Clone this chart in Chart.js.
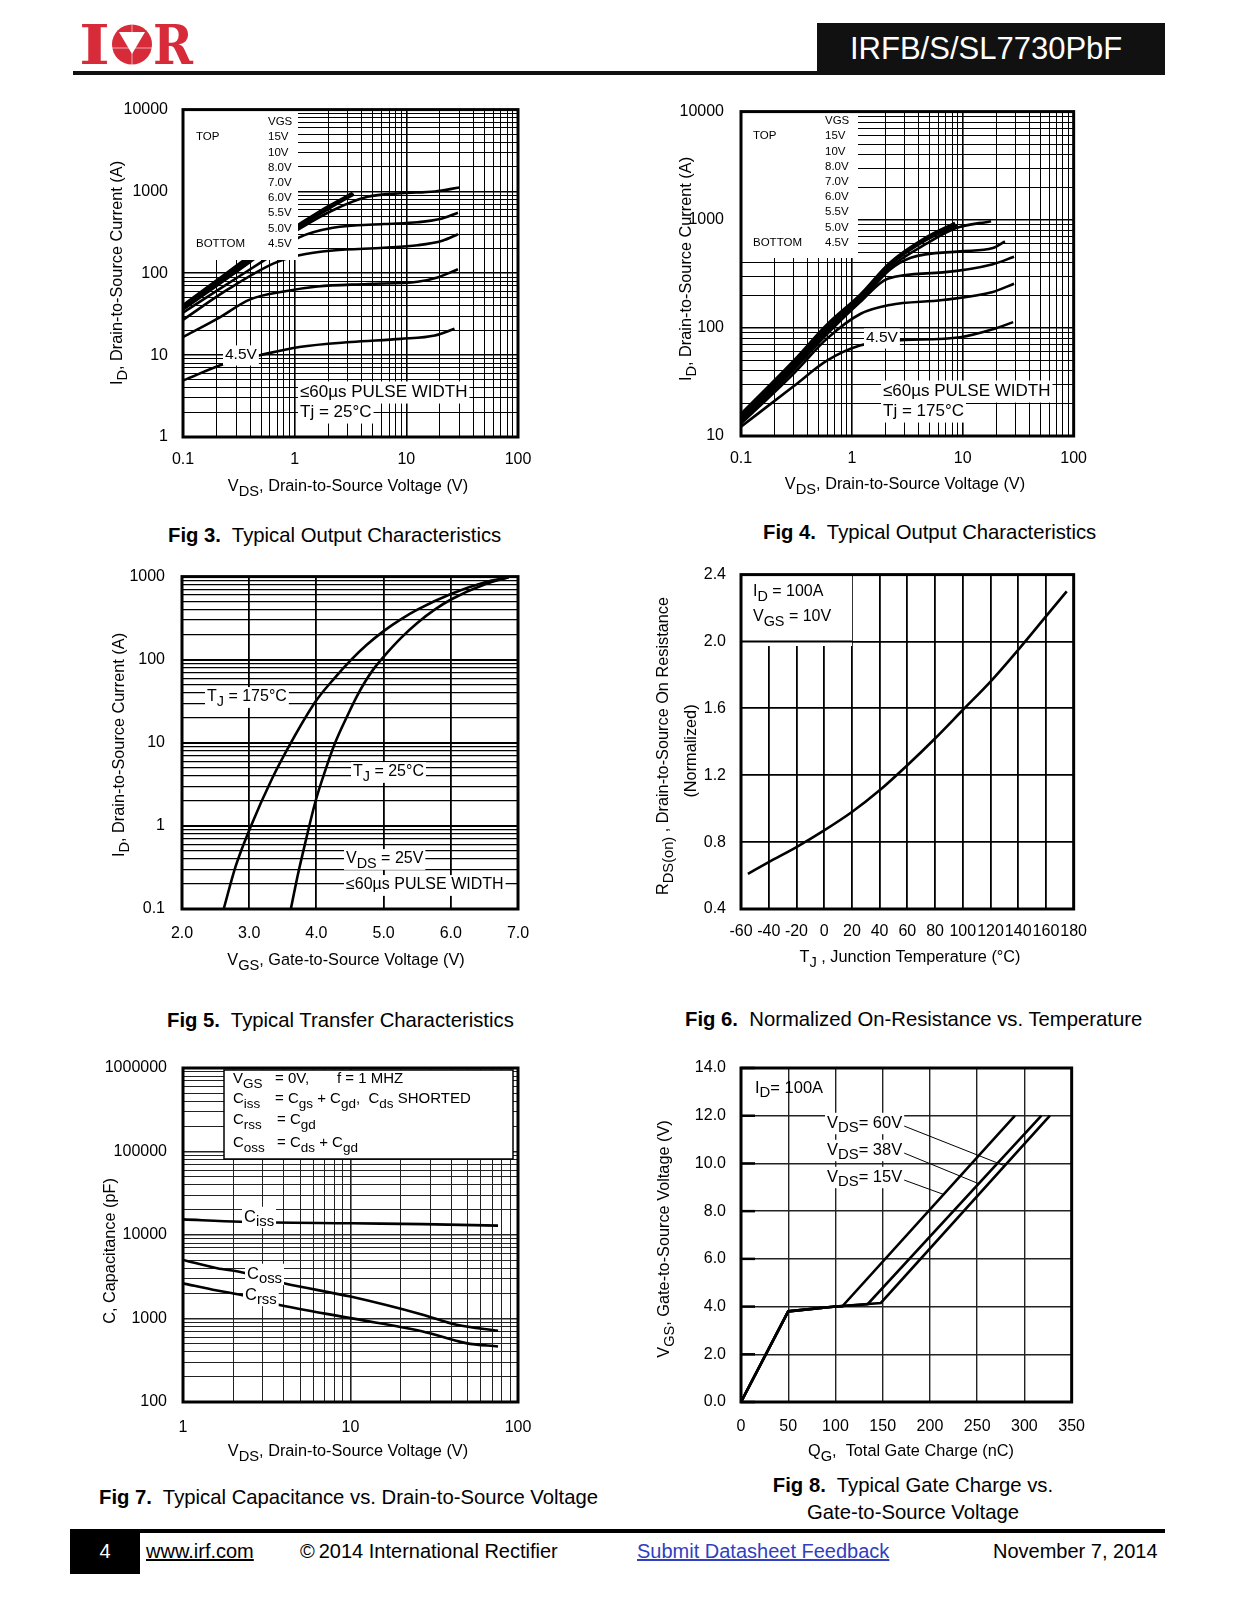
<!DOCTYPE html>
<html lang="en">
<head>
<meta charset="utf-8">
<title>IRFB/S/SL7730PbF - page 4</title>
<script src="https://cdn.jsdelivr.net/npm/chart.js@4.4.1/dist/chart.umd.min.js"></script>
<style>
  html, body { margin: 0; padding: 0; background: #fff; }
  body { position: relative; width: 1237px; height: 1600px; overflow: hidden; color: #000;
    font-family: "Liberation Sans", Arial, Helvetica, sans-serif; }
  .abs { position: absolute; }
  .fig { position: absolute; }
  .cap { position: absolute; font-size: 20.3px; line-height: 22px; white-space: nowrap; }
  .foot { position: absolute; top: 1540px; font-size: 20px; line-height: 22px; white-space: nowrap; }
</style>
</head>
<body>

<svg class="abs" style="left:79px;top:22px" width="116" height="46" viewBox="0 0 116 46">
  <text x="0" y="42" font-family="DejaVu Serif" font-weight="bold" font-size="54" fill="#d72b3a"
        textLength="31" lengthAdjust="spacingAndGlyphs">I</text>
  <circle cx="53" cy="22.5" r="20" fill="#d72b3a"/>
  <polygon points="40,10 66,10 53,32" fill="#fff"/>
  <line x1="33" y1="26" x2="73" y2="26" stroke="#fff" stroke-width="1" opacity="0.6"/>
  <line x1="53" y1="2" x2="53" y2="43" stroke="#fff" stroke-width="1" opacity="0.6"/>
  <text x="74" y="42" font-family="DejaVu Serif" font-weight="bold" font-size="54" fill="#d72b3a"
        textLength="40" lengthAdjust="spacingAndGlyphs">R</text>
</svg>
<div class="abs" style="left:73px;top:71px;width:746px;height:4px;background:#111"></div>
<div class="abs" style="left:817px;top:23px;width:348px;height:52px;background:#111;color:#fff;
  font-size:31px;line-height:52px;padding-left:33px;box-sizing:border-box">IRFB/S/SL7730PbF</div>

<div class="fig"><canvas id="fig3"></canvas></div>
<div class="fig"><canvas id="fig4"></canvas></div>
<div class="fig"><canvas id="fig5"></canvas></div>
<div class="fig"><canvas id="fig6"></canvas></div>
<div class="fig"><canvas id="fig7"></canvas></div>
<div class="fig"><canvas id="fig8"></canvas></div>

<div class="cap" style="left:168px;top:524px"><b>Fig 3.</b>&nbsp; Typical Output Characteristics</div>
<div class="cap" style="left:763px;top:521px"><b>Fig 4.</b>&nbsp; Typical Output Characteristics</div>
<div class="cap" style="left:167px;top:1009px"><b>Fig 5.</b>&nbsp; Typical Transfer Characteristics</div>
<div class="cap" style="left:685px;top:1008px"><b>Fig 6.</b>&nbsp; Normalized On-Resistance vs. Temperature</div>
<div class="cap" style="left:99px;top:1486px"><b>Fig 7.</b>&nbsp; Typical Capacitance vs. Drain-to-Source Voltage</div>
<div class="cap" style="left:763px;top:1472px;width:300px;text-align:center;line-height:26.5px"><b>Fig 8.</b>&nbsp; Typical Gate Charge vs.<br>Gate-to-Source Voltage</div>

<div class="abs" style="left:70px;top:1529px;width:1095px;height:4px;background:#000"></div>
<div class="abs" style="left:70px;top:1529px;width:70px;height:45px;background:#000;color:#fff;
  font-size:20px;line-height:45px;text-align:center">4</div>
<div class="foot" style="left:146px;text-decoration:underline">www.irf.com</div>
<div class="foot" style="left:300px">&copy;&thinsp;2014 International Rectifier</div>
<div class="foot" style="left:637px;color:#2f3fbf;text-decoration:underline">Submit Datasheet Feedback</div>
<div class="foot" style="left:993px">November 7, 2014</div>

<script>
const FONT = '"Liberation Sans", Arial, Helvetica, sans-serif'
const TICK_SIZE = 16
const TITLE_SIZE = 16.3

/* ---------- Données ---------- */

// Légende VGS commune aux Fig 3 et Fig 4
const vgsSteps = ["15V", "10V", "8.0V", "7.0V", "6.0V", "5.5V", "5.0V", "4.5V"]

// Fig 3 : [VDS (V), ID (A)], Tj = 25°C
const fig3Vgs15 = [[0.1, 41], [0.2, 82], [0.4, 165], [0.7, 280], [1.1, 400], [2, 660], [3.3, 960]]
const fig3Vgs10 = [[0.1, 39], [0.2, 78], [0.4, 156], [0.7, 265], [1.1, 385], [2, 640], [3.3, 940]]
const fig3Vgs8 = [[0.1, 37], [0.2, 73], [0.4, 146], [0.7, 250], [1.1, 370], [2, 610], [3.4, 920]]
const fig3Vgs7 = [[0.1, 36], [0.2, 70], [0.4, 138], [0.7, 235], [1.1, 350], [2.2, 590], [4.5, 860], [9, 950], [18, 1000], [30, 1120]]
const fig3Vgs6 = [[0.1, 33], [0.2, 61], [0.4, 112], [0.7, 183], [1.1, 275], [2.2, 360], [6.3, 400], [12.6, 420], [20, 460], [29, 550]]
const fig3Vgs55 = [[0.1, 27], [0.25, 63], [0.65, 132], [1.1, 166], [2.2, 190], [6.3, 205], [12.6, 220], [21, 250], [29, 300]]
const fig3Vgs5 = [[0.1, 16.6], [0.2, 27.5], [0.4, 48], [0.8, 60], [1.6, 69], [4.5, 74], [12.6, 79], [19, 89], [29, 112]]
const fig3Vgs45 = [[0.1, 4.9], [0.24, 7.9], [0.49, 10], [1.1, 12.6], [3.2, 14.5], [8.9, 15.8], [18, 17.4], [27, 21]]
const fig3XLabels = ["0.1", "1", "10", "100"]
const fig3YLabels = ["1", "10", "100", "1000", "10000"]

// Fig 4 : [VDS (V), ID (A)], Tj = 175°C
const fig4Vgs15 = [[0.1, 16], [0.3, 50], [0.6, 108], [1.2, 205], [2.2, 400], [4.7, 690], [8.5, 935]]
const fig4Vgs10 = [[0.1, 15.5], [0.3, 48], [0.6, 105], [1.2, 200], [2.2, 390], [4.7, 670], [8.5, 915]]
const fig4Vgs8 = [[0.1, 15], [0.3, 46], [0.6, 100], [1.2, 195], [2.2, 380], [4.7, 650], [9, 895]]
const fig4Vgs7 = [[0.1, 14.5], [0.3, 44], [0.6, 96], [1.2, 185], [2.2, 360], [4.7, 600], [8.5, 830], [18, 970]]
const fig4Vgs6 = [[0.1, 14], [0.3, 42], [0.6, 92], [1.2, 178], [2.2, 345], [3.4, 445], [9.5, 510], [18.7, 548], [24, 630]]
const fig4Vgs55 = [[0.1, 13.5], [0.3, 41], [0.6, 88], [1.2, 175], [2.1, 285], [6.6, 326], [18.7, 388], [29, 455]]
const fig4Vgs5 = [[0.1, 13], [0.3, 38], [0.6, 80], [1.2, 135], [2.2, 163], [6.6, 181], [18.7, 215], [29, 256]]
const fig4Vgs45 = [[0.1, 12.2], [0.3, 29], [0.6, 50], [1.2, 69], [2.3, 76], [9.5, 82], [18.7, 97], [28.5, 113]]
const fig4XLabels = ["0.1", "1", "10", "100"]
const fig4YLabels = ["10", "100", "1000", "10000"]

// Fig 5 : [VGS (V), ID (A)], VDS = 25V
const fig5Tj175 = [[2.62, 0.1], [2.8, 0.33], [3.02, 0.97], [3.35, 3.85], [3.62, 10], [3.99, 31.6], [4.27, 60], [4.52, 100], [4.75, 151], [5.01, 224], [5.25, 304], [5.51, 403], [6.01, 621], [6.51, 855], [6.86, 982]]
const fig5Tj25 = [[3.62, 0.1], [3.72, 0.25], [3.82, 0.56], [3.99, 2.02], [4.13, 4.6], [4.27, 9.6], [4.47, 21.9], [4.6, 36], [4.72, 53.6], [4.85, 77], [4.99, 106], [5.26, 183], [5.51, 280], [5.76, 400], [6.01, 534], [6.51, 808], [6.86, 980]]
const fig5XLabels = ["2.0", "3.0", "4.0", "5.0", "6.0", "7.0"]
const fig5YLabels = ["0.1", "1", "10", "100", "1000"]

// Fig 6 : [TJ (°C), RDS(on) normalisé]
const fig6Rds = [[-55, 0.61], [-40, 0.68], [-20, 0.77], [0, 0.87], [20, 0.98], [40, 1.11], [60, 1.26], [80, 1.42], [100, 1.59], [120, 1.76], [140, 1.95], [160, 2.15], [175, 2.3]]
const fig6XLabels = ["-60", "-40", "-20", "0", "20", "40", "60", "80", "100", "120", "140", "160", "180"]
const fig6YLabels = ["0.4", "0.8", "1.2", "1.6", "2.0", "2.4"]

// Fig 7 : [VDS (V), C (pF)]
const fig7Ciss = [[1, 15400], [2.2, 14400], [10, 13800], [27, 13500], [76, 12950]]
const fig7Coss = [[1, 5020], [1.6, 4000], [2.2, 3600], [4, 2640], [10, 1830], [27, 1110], [43, 840], [76, 713]]
const fig7Crss = [[1, 2640], [1.6, 2160], [2.2, 1920], [3.6, 1480], [10, 1010], [27, 700], [49, 507], [76, 462]]
const fig7XLabels = ["1", "10", "100"]
const fig7YLabels = ["100", "1000", "10000", "100000", "1000000"]

// Fig 8 : [QG (nC), VGS (V)], ID = 100A
const fig8Vds60 = [[0, 0], [50, 3.8], [100, 4.0], [148, 4.15], [327, 12]]
const fig8Vds38 = [[0, 0], [50, 3.8], [100, 4.0], [134, 4.1], [318, 12]]
const fig8Vds15 = [[0, 0], [50, 3.8], [100, 4.0], [107, 4.0], [290, 12]]
const fig8LeaderLevels = [9.9, 9.15, 8.7]
const fig8XLabels = ["0", "50", "100", "150", "200", "250", "300", "350"]
const fig8YLabels = ["0.0", "2.0", "4.0", "6.0", "8.0", "10.0", "12.0", "14.0"]

/* ---------- Outils ---------- */

/**
 * Lignes de grille d'un axe logarithmique (1..9 par décade)
 */
const logGrid = (min, max) => {
  const lo = Math.round(Math.log10(min))
  const hi = Math.round(Math.log10(max))
  const values = []
  for (let e = lo; e < hi; e++) {
    for (let m = 1; m < 10; m++) values.push(m * Math.pow(10, e))
  }
  values.push(Math.pow(10, hi))
  return values
}

/**
 * Texte avec indices (ex. V + DS en indice)
 * @param {Array|string} parts - [[texte, indice?], ...]
 */
const drawText = (ctx, parts, x, y, { size = 15, align = "left", angle = 0, bg = false } = {}) => {
  const runs = (typeof parts === "string" ? [[parts]] : parts).map(([text, sub]) => ({ text, sub: !!sub }))
  const fontOf = (r) => `${r.sub ? size * 0.9 : size}px ${FONT}`
  let total = 0
  runs.forEach((r) => {
    ctx.font = fontOf(r)
    r.w = ctx.measureText(r.text).width
    total += r.w
  })
  ctx.save()
  ctx.translate(x, y)
  ctx.rotate(angle)
  let cx = align === "center" ? -total / 2 : align === "right" ? -total : 0
  if (bg) {
    ctx.fillStyle = "#fff"
    ctx.fillRect(cx - 2, -size * 0.62, total + 4, size * 1.3)
  }
  ctx.fillStyle = "#000"
  ctx.textAlign = "left"
  ctx.textBaseline = "middle"
  runs.forEach((r) => {
    ctx.font = fontOf(r)
    ctx.fillText(r.text, cx, r.sub ? size * 0.32 : 0)
    cx += r.w
  })
  ctx.restore()
}

const whiteBox = (ctx, x0, y0, x1, y1) => {
  ctx.fillStyle = "#fff"
  ctx.fillRect(x0, y0, x1 - x0, y1 - y0)
}

const line = (ctx, x0, y0, x1, y1, width = 1) => {
  ctx.strokeStyle = "#000"
  ctx.lineWidth = width
  ctx.beginPath()
  ctx.moveTo(x0, y0)
  ctx.lineTo(x1, y1)
  ctx.stroke()
}

/**
 * Légende VGS des Fig 3 / Fig 4
 */
const drawVgsLegend = (ctx, left, valueX, topY) => {
  drawText(ctx, "VGS", valueX, topY, { size: 11.5 })
  vgsSteps.forEach((label, i) => {
    drawText(ctx, label, valueX, topY + 15.2 * (i + 1), { size: 11.5 })
  })
  drawText(ctx, "TOP", left, topY + 15.2, { size: 11.5 })
  drawText(ctx, "BOTTOM", left, topY + 15.2 * 8, { size: 11.5 })
}

/**
 * Configuration d'un axe avec lignes de grille et étiquettes imposées
 */
const buildAxis = ({ type, labels, pad, size, horizontal, major = 1.6, minor = 1, color = "#000" }) => {
  const values = labels.map(Number)
  const grid = type === "logarithmic" ? logGrid(values[0], values[values.length - 1]) : values
  const findLabel = (v) => values.findIndex((l) => Math.abs(l - v) <= Math.abs(l) * 1e-6 + 1e-9)
  return {
    type,
    min: values[0],
    max: values[values.length - 1],
    afterBuildTicks: (scale) => {
      scale.ticks = grid.map((value) => ({ value }))
    },
    afterFit: (scale) => {
      if (horizontal) scale.height = size
      else scale.width = size
    },
    border: { display: false },
    grid: {
      color,
      drawTicks: false,
      lineWidth: (c) => (c.tick && findLabel(c.tick.value) >= 0 ? major : minor),
    },
    ticks: {
      autoSkip: false,
      maxRotation: 0,
      minRotation: 0,
      padding: pad,
      color: "#000",
      font: { family: FONT, size: TICK_SIZE },
      callback: (value) => {
        const i = findLabel(value)
        return i < 0 ? "" : labels[i]
      },
    },
  }
}

/**
 * Plugin : dessins par-dessus les courbes (coordonnées de la page) + cadre
 */
const sheetPlugin = (frame, draw) => ({
  id: "sheet",
  afterDatasetsDraw: (chart) => {
    const { ctx } = chart
    const px = (xv, yv) => [
      chart.scales.x.getPixelForValue(xv) + frame.left,
      chart.scales.y.getPixelForValue(yv) + frame.top,
    ]
    ctx.save()
    ctx.translate(-frame.left, -frame.top)
    draw(ctx, px)
    ctx.restore()
  },
  afterDraw: (chart) => {
    const { ctx, chartArea: a } = chart
    ctx.save()
    ctx.strokeStyle = "#000"
    ctx.lineWidth = 3
    ctx.strokeRect(a.left, a.top, a.right - a.left, a.bottom - a.top)
    ctx.restore()
  },
})

/**
 * Crée un graphique de la fiche technique
 */
const createSheetChart = ({ id, frame, area, x, y, series, smooth = true, draw }) => {
  const canvas = document.getElementById(id)
  if (!canvas) return null
  Object.assign(canvas.parentElement.style, {
    left: `${frame.left}px`,
    top: `${frame.top}px`,
    width: `${frame.width}px`,
    height: `${frame.height}px`,
  })

  return new Chart(canvas.getContext("2d"), {
    type: "line",
    data: {
      datasets: series.map((pts) => ({
        data: pts.map(([a, b]) => ({ x: a, y: b })),
        borderColor: "#000",
        borderWidth: 2.6,
        pointRadius: 0,
        fill: false,
        tension: 0,
        cubicInterpolationMode: smooth ? "monotone" : "default",
      })),
    },
    options: {
      animation: false,
      responsive: true,
      maintainAspectRatio: false,
      events: [],
      layout: {
        padding: {
          left: 0,
          bottom: 0,
          top: area.top - frame.top,
          right: frame.left + frame.width - area.right,
        },
      },
      plugins: {
        legend: { display: false },
        tooltip: { enabled: false },
      },
      scales: {
        x: buildAxis({ ...x, horizontal: true, size: frame.top + frame.height - area.bottom }),
        y: buildAxis({ ...y, horizontal: false, size: area.left - frame.left }),
      },
    },
    plugins: [sheetPlugin(frame, draw)],
  })
}

const title = { size: TITLE_SIZE, align: "center" }
const yTitle = { size: TITLE_SIZE, align: "center", angle: -Math.PI / 2 }

/* ---------- Figures ---------- */

// Fig 3
createSheetChart({
  id: "fig3",
  frame: { left: 60, top: 85, width: 500, height: 430 },
  area: { left: 183, top: 103, right: 518, bottom: 437 },
  x: { type: "logarithmic", labels: fig3XLabels, pad: 13 },
  y: { type: "logarithmic", labels: fig3YLabels, pad: 15 },
  series: [fig3Vgs15, fig3Vgs10, fig3Vgs8, fig3Vgs7, fig3Vgs6, fig3Vgs55, fig3Vgs5, fig3Vgs45],
  draw: (ctx) => {
    whiteBox(ctx, 183, 103, 298, 260)
    drawVgsLegend(ctx, 196, 268, 122)
    drawText(ctx, "4.5V", 225, 355, { size: 15.5, bg: true })
    drawText(ctx, "\u226460\u00b5s PULSE WIDTH", 300, 392, { size: 17, bg: true })
    drawText(ctx, "Tj = 25\u00b0C", 300, 412, { size: 17, bg: true })
    drawText(ctx, [["V"], ["DS", 1], [", Drain-to-Source Voltage (V)"]], 348, 487, title)
    drawText(ctx, [["I"], ["D", 1], [", Drain-to-Source Current (A)"]], 118, 273, yTitle)
  },
})

// Fig 4
createSheetChart({
  id: "fig4",
  frame: { left: 620, top: 85, width: 480, height: 430 },
  area: { left: 741, top: 102, right: 1076, bottom: 436 },
  x: { type: "logarithmic", labels: fig4XLabels, pad: 13 },
  y: { type: "logarithmic", labels: fig4YLabels, pad: 17 },
  series: [fig4Vgs15, fig4Vgs10, fig4Vgs8, fig4Vgs7, fig4Vgs6, fig4Vgs55, fig4Vgs5, fig4Vgs45],
  draw: (ctx) => {
    whiteBox(ctx, 741, 102, 858, 258)
    drawVgsLegend(ctx, 753, 825, 121)
    drawText(ctx, "4.5V", 866, 338, { size: 15.5, bg: true })
    drawText(ctx, "\u226460\u00b5s PULSE WIDTH", 883, 391, { size: 17, bg: true })
    drawText(ctx, "Tj = 175\u00b0C", 883, 411, { size: 17, bg: true })
    drawText(ctx, [["V"], ["DS", 1], [", Drain-to-Source Voltage (V)"]], 905, 485, title)
    drawText(ctx, [["I"], ["D", 1], [", Drain-to-Source Current (A)"]], 687, 269, yTitle)
  },
})

// Fig 5
createSheetChart({
  id: "fig5",
  frame: { left: 60, top: 550, width: 500, height: 430 },
  area: { left: 182, top: 574, right: 518, bottom: 909 },
  x: { type: "linear", labels: fig5XLabels, pad: 15, major: 1.8 },
  y: { type: "logarithmic", labels: fig5YLabels, pad: 17, major: 2, minor: 1.2 },
  series: [fig5Tj175, fig5Tj25],
  draw: (ctx) => {
    drawText(ctx, [["T"], ["J", 1], [" = 175\u00b0C"]], 207, 697, { size: 16, bg: true })
    drawText(ctx, [["T"], ["J", 1], [" = 25\u00b0C"]], 353, 772, { size: 16, bg: true })
    drawText(ctx, [["V"], ["DS", 1], [" = 25V"]], 346, 859, { size: 16, bg: true })
    drawText(ctx, "\u226460\u00b5s PULSE WIDTH", 346, 885, { size: 16, bg: true })
    drawText(ctx, [["V"], ["GS", 1], [", Gate-to-Source Voltage (V)"]], 346, 961, title)
    drawText(ctx, [["I"], ["D", 1], [", Drain-to-Source Current (A)"]], 120, 745, yTitle)
  },
})

// Fig 6
createSheetChart({
  id: "fig6",
  frame: { left: 620, top: 550, width: 480, height: 430 },
  area: { left: 741, top: 574, right: 1077, bottom: 909 },
  x: { type: "linear", labels: fig6XLabels, pad: 13, major: 1.8 },
  y: { type: "linear", labels: fig6YLabels, pad: 15, major: 1.8 },
  series: [fig6Rds],
  draw: (ctx, px) => {
    whiteBox(ctx, 741, 574, 852, 646)
    const [, y20] = px(0, 2.0)
    line(ctx, 741, y20, 852, y20, 1.8)
    drawText(ctx, [["I"], ["D", 1], [" = 100A"]], 753, 592, { size: 16 })
    drawText(ctx, [["V"], ["GS", 1], [" = 10V"]], 753, 617, { size: 16 })
    drawText(ctx, [["T"], ["J", 1], [" , Junction Temperature (\u00b0C)"]], 910, 958, title)
    drawText(ctx, [["R"], ["DS(on)", 1], [" , Drain-to-Source On Resistance"]], 664, 746, yTitle)
    drawText(ctx, "(Normalized)", 692, 751, yTitle)
  },
})

// Fig 7
createSheetChart({
  id: "fig7",
  frame: { left: 60, top: 1040, width: 500, height: 430 },
  area: { left: 183, top: 1068, right: 518, bottom: 1402 },
  x: { type: "logarithmic", labels: fig7XLabels, pad: 16, color: "#222" },
  y: { type: "logarithmic", labels: fig7YLabels, pad: 16, color: "#222" },
  series: [fig7Ciss, fig7Coss, fig7Crss],
  draw: (ctx) => {
    whiteBox(ctx, 224, 1070, 513, 1159)
    ctx.strokeStyle = "#000"
    ctx.lineWidth = 1.5
    ctx.strokeRect(224, 1070, 289, 89)
    const s = { size: 15 }
    drawText(ctx, [["V"], ["GS", 1]], 233, 1079, s)
    drawText(ctx, "= 0V,", 275, 1079, s)
    drawText(ctx, "f = 1 MHZ", 337, 1079, s)
    drawText(ctx, [["C"], ["iss", 1]], 233, 1099, s)
    drawText(ctx, [["= C"], ["gs", 1], [" + C"], ["gd", 1], [",  C"], ["ds", 1], [" SHORTED"]], 275, 1099, s)
    drawText(ctx, [["C"], ["rss", 1]], 233, 1120, s)
    drawText(ctx, [["= C"], ["gd", 1]], 277, 1120, s)
    drawText(ctx, [["C"], ["oss", 1]], 233, 1143, s)
    drawText(ctx, [["= C"], ["ds", 1], [" + C"], ["gd", 1]], 277, 1143, s)
    drawText(ctx, [["C"], ["iss", 1]], 244, 1217, { size: 16.5, bg: true })
    drawText(ctx, [["C"], ["oss", 1]], 247, 1274, { size: 16.5, bg: true })
    drawText(ctx, [["C"], ["rss", 1]], 245, 1295, { size: 16.5, bg: true })
    drawText(ctx, [["V"], ["DS", 1], [", Drain-to-Source Voltage (V)"]], 348, 1452, title)
    drawText(ctx, "C, Capacitance (pF)", 111, 1251, yTitle)
  },
})

// Fig 8
const crossing = (pts, level) => {
  for (let i = 0; i < pts.length - 1; i++) {
    const [x0, y0] = pts[i]
    const [x1, y1] = pts[i + 1]
    if (y1 > y0 && level >= y0 && level <= y1) return x0 + ((level - y0) * (x1 - x0)) / (y1 - y0)
  }
  return pts[pts.length - 1][0]
}

createSheetChart({
  id: "fig8",
  frame: { left: 620, top: 1040, width: 480, height: 430 },
  area: { left: 741, top: 1068, right: 1076, bottom: 1402 },
  x: { type: "linear", labels: fig8XLabels, pad: 15, major: 1.4, color: "#222" },
  y: { type: "linear", labels: fig8YLabels, pad: 15, major: 1.4, color: "#222" },
  series: [fig8Vds60, fig8Vds38, fig8Vds15],
  smooth: false,
  draw: (ctx, px) => {
    fig8YLabels.map(Number).forEach((v) => {
      const [x0, y0] = px(0, v)
      line(ctx, x0, y0, x0 + 14, y0, 2.5)
    })
    drawText(ctx, [["I"], ["D", 1], ["= 100A"]], 755, 1088, { size: 16.5 })
    const labels = [["= 60V", fig8Vds60, 1123], ["= 38V", fig8Vds38, 1150], ["= 15V", fig8Vds15, 1177]]
    labels.forEach(([text, pts, ly], i) => {
      const level = fig8LeaderLevels[i]
      const [tx, ty] = px(crossing(pts, level), level)
      line(ctx, 904, ly + 3, tx, ty, 1)
      drawText(ctx, [["V"], ["DS", 1], [text]], 827, ly, { size: 16.5, bg: true })
    })
    drawText(ctx, [["Q"], ["G", 1], [",  Total Gate Charge (nC)"]], 911, 1452, title)
    drawText(ctx, [["V"], ["GS", 1], [", Gate-to-Source Voltage (V)"]], 665, 1239, yTitle)
  },
})
</script>
</body>
</html>
